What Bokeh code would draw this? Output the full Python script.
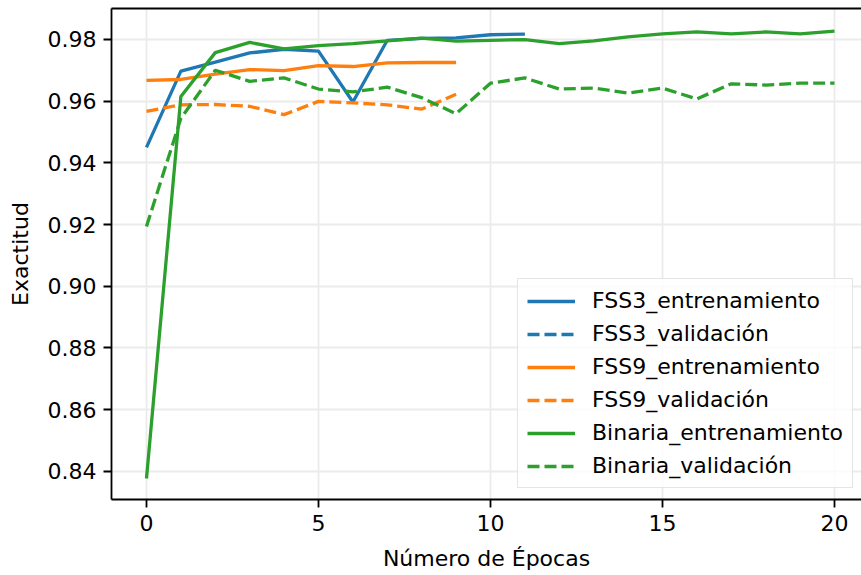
from bokeh.plotting import figure
from bokeh.models import Range1d, Legend, LegendItem, FixedTicker, LinearAxis, CustomJSTickFormatter
from bokeh.embed import file_html
from bokeh.resources import INLINE

epochs_fss3 = list(range(12))
fss3_train = [0.945, 0.9697, 0.9726, 0.9756, 0.9768, 0.9762, 0.9597, 0.9797, 0.9803, 0.9805, 0.9815, 0.9817]
# validation series of FSS3 is not drawn in the original (only its legend entry shows)
fss3_val = [float("nan")] * 12

epochs_fss9 = list(range(10))
fss9_train = [0.9667, 0.967, 0.9687, 0.9702, 0.9699, 0.9715, 0.9712, 0.9724, 0.9725, 0.9725]
fss9_val = [0.9567, 0.9588, 0.9589, 0.9583, 0.9556, 0.9599, 0.9594, 0.9588, 0.9574, 0.9622]

epochs_bin = list(range(21))
bin_train = [0.8377, 0.9615, 0.9757, 0.979, 0.9769, 0.978, 0.9786, 0.9795, 0.9804, 0.9794, 0.9797,
             0.9799, 0.9786, 0.9795, 0.9808, 0.9818, 0.9824, 0.9818, 0.9824, 0.9818, 0.9827]
bin_val = [0.9194, 0.9544, 0.97, 0.9664, 0.9675, 0.9639, 0.963, 0.9645, 0.9611, 0.9559, 0.9658,
           0.9675, 0.9639, 0.9642, 0.9626, 0.9642, 0.9607, 0.9656, 0.9652, 0.9658, 0.9658]

x_ticks = [0, 5, 10, 15, 20]
y_ticks = [0.84, 0.86, 0.88, 0.90, 0.92, 0.94, 0.96, 0.98]

BLUE = "#1f77b4"
ORANGE = "#ff7f0e"
GREEN = "#2ca02c"
FONT = "DejaVu Sans"
FS = "22px"

p = figure(width=861, height=575, output_backend="svg", toolbar_location=None,
           x_range=Range1d(-1.017, 20.785), y_range=Range1d(0.8309, 0.990),
           min_border_left=111, min_border_right=0, min_border_top=8, min_border_bottom=76,
           x_axis_label="Número de Épocas", y_axis_label="Exactitud")
p.outline_line_color = None
p.background_fill_color = "white"
p.border_fill_color = "white"

for ax in (p.xaxis[0], p.yaxis[0]):
    ax.axis_line_width = 1.8
    ax.axis_line_color = "black"
    ax.major_tick_line_width = 1.8
    ax.major_tick_out = 8
    ax.major_tick_in = 0
    ax.minor_tick_line_color = None
    ax.major_label_text_font = FONT
    ax.major_label_text_font_size = FS
    ax.major_label_text_color = "black"
    ax.major_label_standoff = 7
    ax.axis_label_text_font = FONT
    ax.axis_label_text_font_size = FS
    ax.axis_label_text_font_style = "normal"
    ax.axis_label_text_color = "black"

p.xaxis[0].ticker = FixedTicker(ticks=x_ticks)
p.yaxis[0].ticker = FixedTicker(ticks=y_ticks)
p.yaxis[0].formatter = CustomJSTickFormatter(code="return tick.toFixed(2);")
p.xaxis[0].axis_label_standoff = 12
p.yaxis[0].axis_label_standoff = 12

top_axis = LinearAxis(ticker=FixedTicker(ticks=[]), axis_line_width=1.8, axis_line_color="black",
                      major_tick_line_color=None, minor_tick_line_color=None,
                      major_label_text_font_size="0px", major_label_standoff=0)
p.add_layout(top_axis, "above")

p.grid.grid_line_color = "#ebebeb"
p.grid.grid_line_width = 1.8
p.xgrid.ticker = FixedTicker(ticks=x_ticks)
p.ygrid.ticker = FixedTicker(ticks=y_ticks)

DASH = "12 5"
LW = 3.3
r1 = p.line(epochs_fss3, fss3_train, line_color=BLUE, line_width=LW)
r2 = p.line(epochs_fss3, fss3_val, line_color=BLUE, line_width=LW, line_dash=DASH)
r3 = p.line(epochs_fss9, fss9_train, line_color=ORANGE, line_width=LW)
r4 = p.line(epochs_fss9, fss9_val, line_color=ORANGE, line_width=LW, line_dash=DASH)
r5 = p.line(epochs_bin, bin_train, line_color=GREEN, line_width=LW)
r6 = p.line(epochs_bin, bin_val, line_color=GREEN, line_width=LW, line_dash=DASH)

legend = Legend(items=[
    LegendItem(label="FSS3_entrenamiento", renderers=[r1]),
    LegendItem(label="FSS3_validación", renderers=[r2]),
    LegendItem(label="FSS9_entrenamiento", renderers=[r3]),
    LegendItem(label="FSS9_validación", renderers=[r4]),
    LegendItem(label="Binaria_entrenamiento", renderers=[r5]),
    LegendItem(label="Binaria_validación", renderers=[r6]),
], location=(406, 11))
legend.label_text_font = FONT
legend.label_text_font_size = FS
legend.label_text_color = "black"
legend.glyph_width = 48
legend.glyph_height = 22
legend.label_height = 22
legend.label_standoff = 17
legend.spacing = 8
legend.padding = 9
legend.margin = 0
legend.border_line_color = "#cccccc"
legend.border_line_width = 1.8
legend.background_fill_alpha = 0.8
p.add_layout(legend, "center")

open("out.html", "w").write(file_html(p, INLINE))
